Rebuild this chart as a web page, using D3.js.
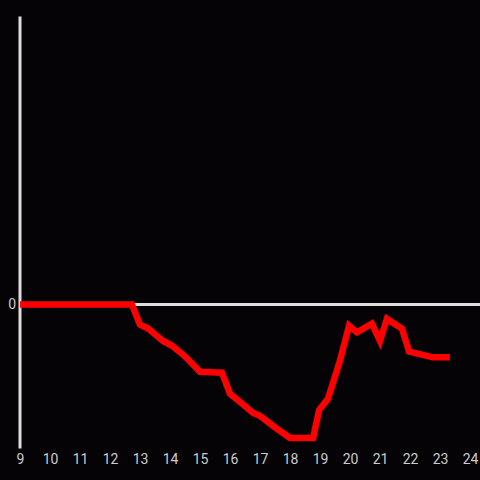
<!DOCTYPE html>
<html>
<head>
<meta charset="utf-8">
<script src="https://cdn.jsdelivr.net/npm/d3@7"></script>
<style>
  body { margin: 0; background: #050306; }
  text { font-family: Roboto, sans-serif; }
</style>
</head>
<body>
<script>
// hours of day and values
var hours = [9, 12.73, 13.0, 13.27, 13.77, 14.07, 14.5, 15.0, 15.73, 16.0, 16.43, 16.77, 17.0, 17.5,
	18.0, 18.77, 18.97, 19.27, 19.67, 19.97, 20.23, 20.73, 21.0, 21.23, 21.73, 21.97, 22.77, 23.33];
var values = [0, 0, -0.21, -0.25, -0.38, -0.43, -0.54, -0.70, -0.71, -0.93, -1.04, -1.13, -1.16, -1.28,
	-1.39, -1.39, -1.10, -0.98, -0.58, -0.22, -0.29, -0.20, -0.38, -0.15, -0.25, -0.49, -0.55, -0.55];
var xTicks = d3.range(9, 25);
var yTicks = [0];

var width = 480, height = 480;

var x = d3.scaleLinear().domain([9, 24]).range([20, 470]);
var y = d3.scaleLinear().domain([-1.5, 3]).range([448.5, 16.5]);

var svg = d3.select('body').append('svg')
	.attr('width', width)
	.attr('height', height)
	.style('background', '#050306');

// y axis line
svg.append('line')
	.attr('x1', x(9)).attr('x2', x(9))
	.attr('y1', y(3)).attr('y2', y(-1.5))
	.attr('stroke', '#dddddd').attr('stroke-width', 3);

// zero line
svg.append('line')
	.attr('x1', x(9)).attr('x2', width)
	.attr('y1', y(0)).attr('y2', y(0))
	.attr('stroke', '#dddddd').attr('stroke-width', 3);

var xAxis = d3.axisBottom(x).tickValues(xTicks).tickSize(0).tickPadding(6).tickFormat(d3.format('d'));
var gx = svg.append('g')
	.attr('transform', 'translate(0,' + 448 + ')')
	.call(xAxis);
gx.select('.domain').remove();
gx.selectAll('text').attr('fill', '#cccccc').style('font-size', '14px').style('font-family', 'Roboto, sans-serif');

var yAxis = d3.axisLeft(y).tickValues(yTicks).tickSize(0).tickPadding(4).tickFormat(d3.format('d'));
var gy = svg.append('g')
	.attr('transform', 'translate(' + x(9) + ',0)')
	.call(yAxis);
gy.select('.domain').remove();
gy.selectAll('text').attr('fill', '#cccccc').style('font-size', '14px').style('font-family', 'Roboto, sans-serif');

var line = d3.line()
	.x(function(d, i) { return x(hours[i]); })
	.y(function(d) { return y(d); });

svg.append('path')
	.datum(values)
	.attr('d', line)
	.attr('fill', 'none')
	.attr('stroke', '#ff0000')
	.attr('stroke-width', 6.5)
	.attr('stroke-linejoin', 'miter');
</script>
</body>
</html>
